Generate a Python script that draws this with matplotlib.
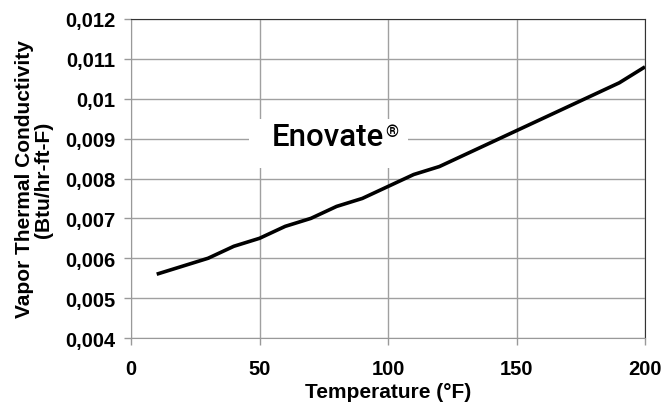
import matplotlib
matplotlib.use("Agg")
import matplotlib.pyplot as plt
from matplotlib.patches import Rectangle

temps = [10, 20, 30, 40, 50, 60, 70, 80, 90, 100, 110, 120, 130, 140, 150, 160, 170, 180, 190, 200]
cond = [0.0056, 0.0058, 0.0060, 0.0063, 0.0065, 0.0068, 0.0070, 0.0073, 0.0075, 0.0078,
        0.0081, 0.0083, 0.0086, 0.0089, 0.0092, 0.0095, 0.0098, 0.0101, 0.0104, 0.0108]
xticks = [0, 50, 100, 150, 200]
yticks = [0.004, 0.005, 0.006, 0.007, 0.008, 0.009, 0.010, 0.011, 0.012]
ytick_labels = ["0,004", "0,005", "0,006", "0,007", "0,008", "0,009", "0,01", "0,011", "0,012"]

plt.rcParams['font.family'] = ['Liberation Sans', 'DejaVu Sans']
fig = plt.figure(figsize=(6.65, 4.06), dpi=100)
ax = fig.add_axes([131/665, 1-339/406, (645-131)/665, (339-20)/406])

ax.plot(temps, cond, color='black', lw=2.6, zorder=3, solid_capstyle='butt')
ax.set_xlim(0, 200)
ax.set_ylim(0.004, 0.012)
ax.set_xticks(xticks)
ax.set_yticks(yticks)
ax.set_yticklabels(ytick_labels)
ax.grid(True, color='#a0a0a0', lw=1)
ax.set_axisbelow(True)
for s in ['left', 'bottom']:
    ax.spines[s].set_color('#999999')
for s in ['top', 'right']:
    ax.spines[s].set_color('#333333')
ax.tick_params(axis='both', colors='#999999', length=5, width=1, labelcolor='black',
               labelsize=14.5)
for lab in ax.get_xticklabels() + ax.get_yticklabels():
    lab.set_fontweight('bold')
ax.tick_params(axis='x', pad=10)
ax.tick_params(axis='y', pad=6)
ax.set_xlabel('Temperature (°F)', fontsize=15, fontweight='bold', labelpad=3)
ax.set_ylabel('Vapor Thermal Conductivity\n(Btu/hr-ft-F)', fontsize=15, fontweight='bold',
              labelpad=9, linespacing=1.0)

# white label background
ax.add_patch(Rectangle((45.9, 0.00826), 61.9, 0.00123, facecolor='white', edgecolor='none',
                       zorder=2))
t = ax.text(54.9, 0.00884, 'Enovate', fontsize=22.5, family=['Roboto', 'DejaVu Sans'],
            fontweight='medium', ha='left', va='baseline', zorder=4)
fig.canvas.draw()
bb = t.get_window_extent()
ax.annotate('®', xy=(bb.x1, bb.y1), xycoords='figure pixels', xytext=(0.5, -1.5),
            textcoords='offset points', fontsize=12, family=['Roboto', 'DejaVu Sans'],
            fontweight='medium', ha='left', va='top', zorder=4)

fig.savefig('out.png', dpi=100)
